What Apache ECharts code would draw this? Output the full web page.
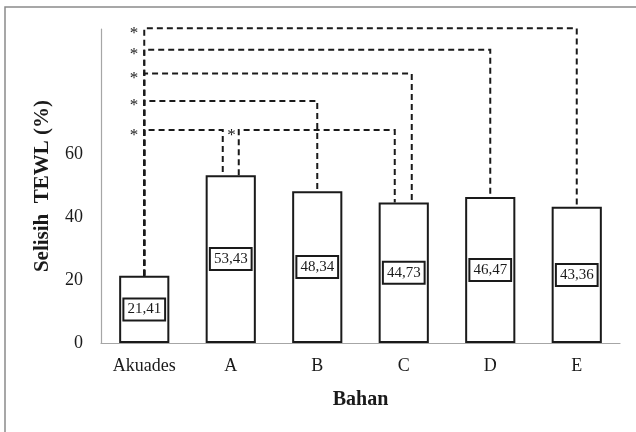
<!DOCTYPE html>
<html><head><meta charset="utf-8">
<script src="https://cdn.jsdelivr.net/npm/echarts@6/dist/echarts.min.js"></script>
<style>html,body{margin:0;padding:0;background:#fff}#c{width:636px;height:432px}</style>
</head><body><div id="c"></div>
<script>
// ---- data ----
var categories = ['Akuades', 'A', 'B', 'C', 'D', 'E'];
var values = [21.41, 53.43, 48.34, 44.73, 46.47, 43.36];
var yTicks = [0, 20, 40, 60];
// significant comparisons (from category, to category)
var comparisons = [
  ['Akuades', 'A'],
  ['A', 'C'],
  ['Akuades', 'B'],
  ['Akuades', 'C'],
  ['Akuades', 'D'],
  ['Akuades', 'E']
];
var marker = '*';

// ---- layout / style (not data) ----
var bracketLevels = [67.8, 67.8, 77.1, 85.8, 93.4, 100.2]; // heights of bracket bars in axis units
var endNudge = { 'A-C': [8, -9], 'Akuades-A': [0, -8], 'Akuades-C': [0, 8] };
var serif = '"Liberation Serif","Times New Roman",serif';
var ink = '#1a1a1a';

var bracketData = comparisons.map(function (c, i) {
  return [categories.indexOf(c[0]), categories.indexOf(c[1]), bracketLevels[i], i];
});

var chart = echarts.init(document.getElementById('c'));
chart.setOption({
  animation: false,
  backgroundColor: '#fff',
  grid: { left: 101, right: 16, top: 29, bottom: 89 },
  graphic: [{
    type: 'polyline', silent: true,
    shape: { points: [[5, 432], [5, 7], [636, 7]] },
    style: { stroke: '#8a8a8a', lineWidth: 1.5, fill: null }
  }],
  xAxis: {
    type: 'category', data: categories,
    name: 'Bahan', nameLocation: 'middle', nameGap: 47,
    nameTextStyle: { fontFamily: serif, fontWeight: 'bold', fontSize: 20, color: ink },
    axisLine: { lineStyle: { color: '#a6a6a6', width: 1.2 } },
    axisTick: { show: false },
    axisLabel: { fontFamily: serif, fontSize: 18, color: ink, margin: 14 }
  },
  yAxis: {
    type: 'value', min: 0, max: 100, interval: 20,
    name: 'Selisih  TEWL (%)', nameLocation: 'middle', nameGap: 48, nameRotate: 90,
    nameTextStyle: { fontFamily: serif, fontWeight: 'bold', fontSize: 21, color: ink },
    axisLine: { show: true, lineStyle: { color: '#a6a6a6', width: 1.2 } },
    axisTick: { show: false },
    splitLine: { show: false },
    axisLabel: {
      fontFamily: serif, fontSize: 18, color: ink, margin: 18,
      formatter: function (v) { return yTicks.indexOf(v) >= 0 ? String(v) : ''; }
    }
  },
  series: [{
    type: 'bar', data: values, barWidth: '58%',
    itemStyle: { color: '#fff', borderColor: ink, borderWidth: 2 },
    label: {
      show: true, position: 'inside',
      formatter: function (p) { return p.value.toFixed(2).replace('.', ','); },
      fontFamily: serif, fontSize: 15, color: ink,
      backgroundColor: '#fff', borderColor: ink, borderWidth: 2, padding: [3, 3, 2, 3]
    },
    z: 2
  }, {
    type: 'custom', data: bracketData, z: 3, silent: true,
    renderItem: function (params, api) {
      var a = api.value(0), b = api.value(1), lvl = api.value(2);
      var key = categories[a] + '-' + categories[b];
      var nudge = endNudge[key] || [0, 0];
      var pa = api.coord([a, values[a]]);
      var pb = api.coord([b, values[b]]);
      var top = api.coord([a, lvl])[1];
      var xa = pa[0] + nudge[0], xb = pb[0] + nudge[1];
      return {
        type: 'group',
        children: [{
          type: 'polyline',
          shape: { points: [[xa, pa[1]], [xa, top], [xb, top], [xb, pb[1]]] },
          style: { stroke: ink, lineWidth: 2, lineDash: [6, 4], fill: null }
        }, {
          type: 'text',
          style: {
            text: marker, x: xa - (nudge[0] ? 3 : 6), y: top + 5,
            textAlign: 'right', textVerticalAlign: 'middle',
            fontFamily: serif, fontSize: 17, fill: ink
          }
        }]
      };
    }
  }]
});
</script></body></html>
